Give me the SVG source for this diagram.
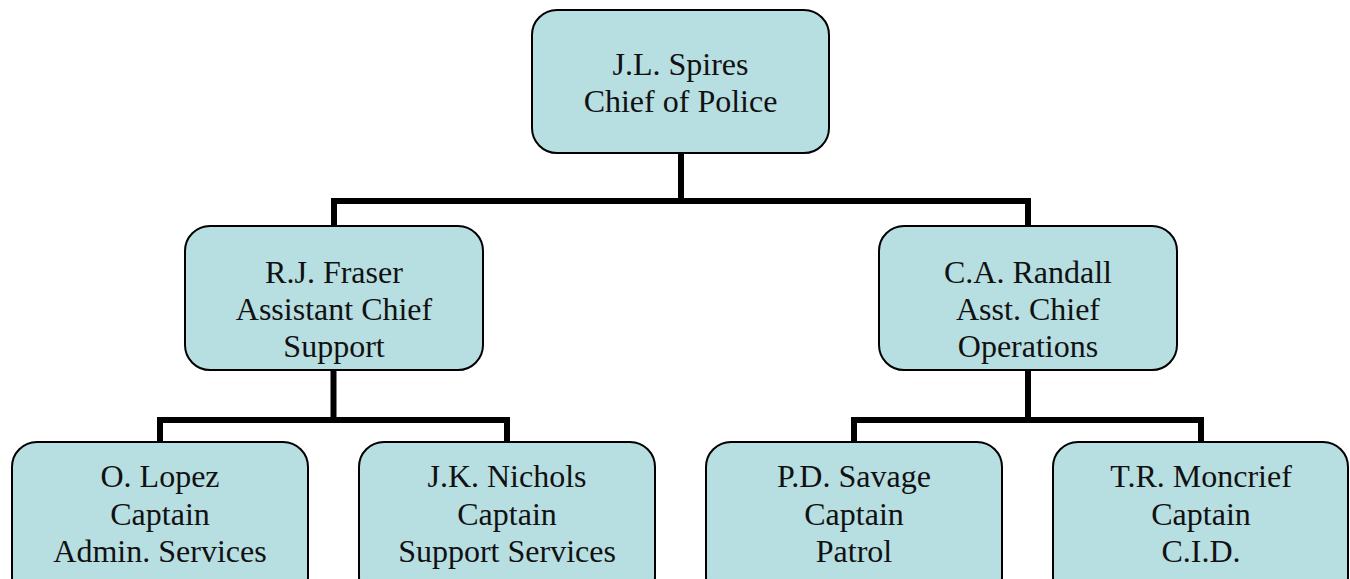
<svg xmlns="http://www.w3.org/2000/svg" width="1350" height="579" viewBox="0 0 1350 579">
<style>
.box{fill:#B7DEE1;stroke:#000;stroke-width:2}
.t{font-family:"Liberation Serif","DejaVu Serif",serif;font-size:32px;fill:#111;text-anchor:middle}
.c{fill:none;stroke:#000;stroke-width:6;stroke-linecap:square;stroke-linejoin:miter}
</style>
<rect width="1350" height="579" fill="#fff"/>
<g id="connectors">
<path class="c" d="M681 153V201M334 225V201H1028V225"/>
<path class="c" d="M333.5 370V420M160 442V420H507V442"/>
<path class="c" d="M1028 370V420M854 442V420H1201V442"/>
</g>
<g id="spires">
<rect class="box" x="532" y="10" width="297" height="143" rx="25"/>
<text class="t" x="680.5" y="75">J.L. Spires</text>
<text class="t" x="680.5" y="112">Chief of Police</text>
</g>
<g id="fraser">
<rect class="box" x="185" y="226" width="298" height="144" rx="25"/>
<text class="t" x="334" y="283">R.J. Fraser</text>
<text class="t" x="334" y="320">Assistant Chief</text>
<text class="t" x="334" y="357">Support</text>
</g>
<g id="randall">
<rect class="box" x="879" y="226" width="298" height="144" rx="25"/>
<text class="t" x="1028" y="283">C.A. Randall</text>
<text class="t" x="1028" y="320">Asst. Chief</text>
<text class="t" x="1028" y="357">Operations</text>
</g>
<g id="lopez">
<rect class="box" x="12" y="442" width="296" height="160" rx="25"/>
<text class="t" x="160" y="487">O. Lopez</text>
<text class="t" x="160" y="525">Captain</text>
<text class="t" x="160" y="562">Admin. Services</text>
</g>
<g id="nichols">
<rect class="box" x="359" y="442" width="296" height="160" rx="25"/>
<text class="t" x="507" y="487">J.K. Nichols</text>
<text class="t" x="507" y="525">Captain</text>
<text class="t" x="507" y="562">Support Services</text>
</g>
<g id="savage">
<rect class="box" x="706" y="442" width="296" height="160" rx="25"/>
<text class="t" x="854" y="487">P.D. Savage</text>
<text class="t" x="854" y="525">Captain</text>
<text class="t" x="854" y="562">Patrol</text>
</g>
<g id="moncrief">
<rect class="box" x="1053" y="442" width="295" height="160" rx="25"/>
<text class="t" x="1201" y="487">T.R. Moncrief</text>
<text class="t" x="1201" y="525">Captain</text>
<text class="t" x="1201" y="562">C.I.D.</text>
</g>
</svg>
